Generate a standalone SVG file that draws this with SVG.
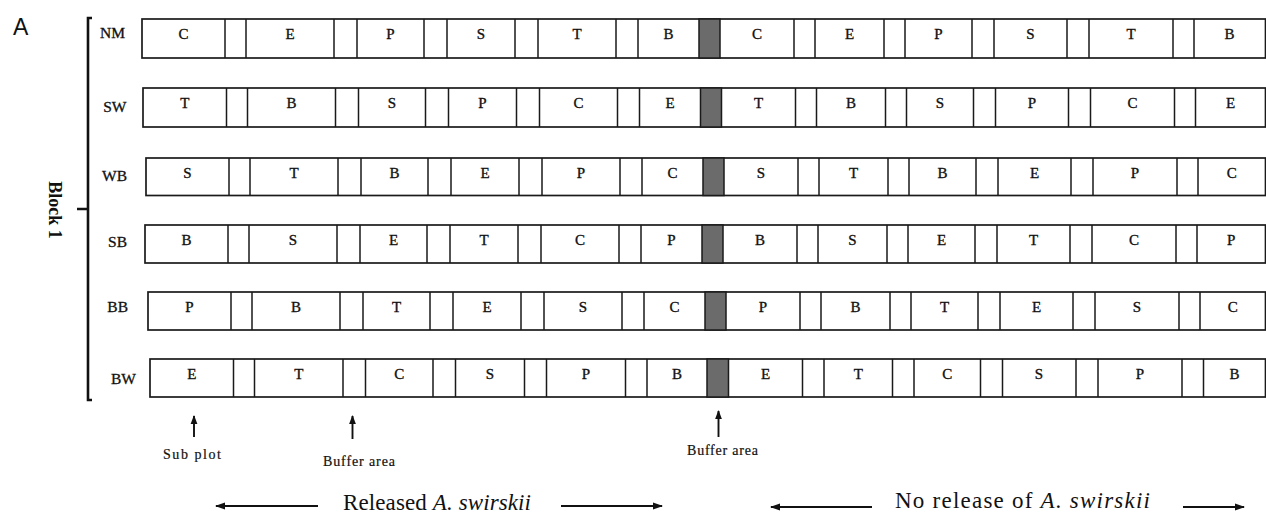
<svg xmlns="http://www.w3.org/2000/svg" width="1266" height="514" viewBox="0 0 1266 514">
<style>
.box{fill:#fff;stroke:#1a1a1a;stroke-width:1.7}
.div{fill:none;stroke:#1a1a1a;stroke-width:1.5}
.buf{fill:#6b6b6b;stroke:#1a1a1a;stroke-width:1.5}
.cl{font-family:"Liberation Serif",serif;font-size:15px;text-anchor:middle;fill:#111;stroke:#111;stroke-width:0.35}
.rl{font-family:"Liberation Serif",serif;font-size:15.5px;text-anchor:end;fill:#111;stroke:#111;stroke-width:0.3}
.sm{font-family:"Liberation Serif",serif;font-size:14px;fill:#111;stroke:#111;stroke-width:0.2}
.big{font-family:"Liberation Serif",serif;font-size:23px;fill:#111}
.ar{fill:none;stroke:#111;stroke-width:1.9}
</style>
<defs>
<marker id="hv" markerUnits="userSpaceOnUse" markerWidth="9" markerHeight="8" viewBox="0 0 9 8" refX="8" refY="4" orient="auto"><path d="M0,0.6 L9,4 L0,7.4 Z" fill="#111"/></marker>
<marker id="hh" markerUnits="userSpaceOnUse" markerWidth="10" markerHeight="8" viewBox="0 0 10 8" refX="9" refY="4" orient="auto"><path d="M0,0.5 L10,4 L0,7.5 Z" fill="#111"/></marker>
</defs>
<rect width="1266" height="514" fill="#fff"/>
<text x="13" y="35" font-family="Liberation Sans,Arial,sans-serif" font-size="23" fill="#111">A</text>
<g id="block">
<path d="M92,18 L88,18 L88,400 L92,400 M77,209 L88,209" fill="none" stroke="#111" stroke-width="2.6"/>
<text transform="translate(49,210) rotate(90)" font-family="Liberation Serif,serif" font-size="18" font-weight="bold" text-anchor="middle" fill="#111">Block 1</text>
</g>
<g id="row-NM">
<rect class="box" x="142" y="19" width="1123.5" height="39"/>
<path class="div" d="M225,19V58M246,19V58M334,19V58M357,19V58M424,19V58M447,19V58M515,19V58M538,19V58M616,19V58M638,19V58M794,19V58M815,19V58M884,19V58M905,19V58M972,19V58M994,19V58M1067,19V58M1089,19V58M1173,19V58M1194,19V58"/>
<rect class="buf" x="699" y="19" width="21" height="39"/>
<text class="rl" x="125" y="38">NM</text>
<g class="cl"><text x="183.5" y="38.5">C</text><text x="290" y="38.5">E</text><text x="390.5" y="38.5">P</text><text x="481" y="38.5">S</text><text x="577" y="38.5">T</text><text x="668.5" y="38.5">B</text><text x="757" y="38.5">C</text><text x="849.5" y="38.5">E</text><text x="938.5" y="38.5">P</text><text x="1030.5" y="38.5">S</text><text x="1131" y="38.5">T</text><text x="1229.5" y="38.5">B</text></g>
</g>
<g id="row-SW">
<rect class="box" x="143" y="88" width="1122.5" height="39"/>
<path class="div" d="M226.5,88V127M247.5,88V127M335.5,88V127M358.5,88V127M425.5,88V127M448.5,88V127M516.5,88V127M539.5,88V127M617.5,88V127M639.5,88V127M795.5,88V127M816.5,88V127M885.5,88V127M906.5,88V127M973.5,88V127M995.5,88V127M1068.5,88V127M1090.5,88V127M1174.5,88V127M1195.5,88V127"/>
<rect class="buf" x="700.5" y="88" width="21" height="39"/>
<text class="rl" x="126.5" y="112">SW</text>
<g class="cl"><text x="184.75" y="107.5">T</text><text x="291.5" y="107.5">B</text><text x="392" y="107.5">S</text><text x="482.5" y="107.5">P</text><text x="578.5" y="107.5">C</text><text x="670" y="107.5">E</text><text x="758.5" y="107.5">T</text><text x="851" y="107.5">B</text><text x="940" y="107.5">S</text><text x="1032" y="107.5">P</text><text x="1132.5" y="107.5">C</text><text x="1230.5" y="107.5">E</text></g>
</g>
<g id="row-WB">
<rect class="box" x="146" y="158" width="1119.5" height="37.5"/>
<path class="div" d="M229,158V195.5M250,158V195.5M338,158V195.5M361,158V195.5M428,158V195.5M451,158V195.5M519,158V195.5M542,158V195.5M620,158V195.5M642,158V195.5M798,158V195.5M819,158V195.5M888,158V195.5M909,158V195.5M976,158V195.5M998,158V195.5M1071,158V195.5M1093,158V195.5M1177,158V195.5M1198,158V195.5"/>
<rect class="buf" x="703" y="158" width="21" height="37.5"/>
<text class="rl" x="127" y="181">WB</text>
<g class="cl"><text x="187.5" y="177.5">S</text><text x="294" y="177.5">T</text><text x="394.5" y="177.5">B</text><text x="485" y="177.5">E</text><text x="581" y="177.5">P</text><text x="672.5" y="177.5">C</text><text x="761" y="177.5">S</text><text x="853.5" y="177.5">T</text><text x="942.5" y="177.5">B</text><text x="1034.5" y="177.5">E</text><text x="1135" y="177.5">P</text><text x="1231.75" y="177.5">C</text></g>
</g>
<g id="row-SB">
<rect class="box" x="145" y="225" width="1120.5" height="38"/>
<path class="div" d="M228,225V263M249,225V263M337,225V263M360,225V263M427,225V263M450,225V263M518,225V263M541,225V263M619,225V263M641,225V263M797,225V263M818,225V263M887,225V263M908,225V263M975,225V263M997,225V263M1070,225V263M1092,225V263M1176,225V263M1197,225V263"/>
<rect class="buf" x="702" y="225" width="21" height="38"/>
<text class="rl" x="127" y="247">SB</text>
<g class="cl"><text x="186.5" y="244.5">B</text><text x="293" y="244.5">S</text><text x="393.5" y="244.5">E</text><text x="484" y="244.5">T</text><text x="580" y="244.5">C</text><text x="671.5" y="244.5">P</text><text x="760" y="244.5">B</text><text x="852.5" y="244.5">S</text><text x="941.5" y="244.5">E</text><text x="1033.5" y="244.5">T</text><text x="1134" y="244.5">C</text><text x="1231.25" y="244.5">P</text></g>
</g>
<g id="row-BB">
<rect class="box" x="148" y="292" width="1117.5" height="38"/>
<path class="div" d="M231,292V330M252,292V330M340,292V330M363,292V330M430,292V330M453,292V330M521,292V330M544,292V330M622,292V330M644,292V330M800,292V330M821,292V330M890,292V330M911,292V330M978,292V330M1000,292V330M1073,292V330M1095,292V330M1179,292V330M1200,292V330"/>
<rect class="buf" x="705" y="292" width="21" height="38"/>
<text class="rl" x="128" y="312">BB</text>
<g class="cl"><text x="189.5" y="311.5">P</text><text x="296" y="311.5">B</text><text x="396.5" y="311.5">T</text><text x="487" y="311.5">E</text><text x="583" y="311.5">S</text><text x="674.5" y="311.5">C</text><text x="763" y="311.5">P</text><text x="855.5" y="311.5">B</text><text x="944.5" y="311.5">T</text><text x="1036.5" y="311.5">E</text><text x="1137" y="311.5">S</text><text x="1232.75" y="311.5">C</text></g>
</g>
<g id="row-BW">
<rect class="box" x="150" y="359" width="1115.5" height="38"/>
<path class="div" d="M233.5,359V397M254.5,359V397M343,359V397M365.5,359V397M433,359V397M455.5,359V397M524.5,359V397M546.5,359V397M625.5,359V397M647,359V397M802.5,359V397M824,359V397M892.5,359V397M914,359V397M980.5,359V397M1002.5,359V397M1076,359V397M1098,359V397M1182,359V397M1203.5,359V397"/>
<rect class="buf" x="707" y="359" width="21.5" height="38"/>
<text class="rl" x="136" y="384">BW</text>
<g class="cl"><text x="191.75" y="378.5">E</text><text x="298.75" y="378.5">T</text><text x="399.25" y="378.5">C</text><text x="490" y="378.5">S</text><text x="586" y="378.5">P</text><text x="677" y="378.5">B</text><text x="765.5" y="378.5">E</text><text x="858.25" y="378.5">T</text><text x="947.25" y="378.5">C</text><text x="1039" y="378.5">S</text><text x="1140" y="378.5">P</text><text x="1234.5" y="378.5">B</text></g>
</g>
<g id="connectors">
<line class="ar" x1="194" y1="437" x2="194" y2="416" marker-end="url(#hv)"/>
<line class="ar" x1="352.5" y1="439" x2="352.5" y2="416" marker-end="url(#hv)"/>
<line class="ar" x1="718.5" y1="437" x2="718.5" y2="411" marker-end="url(#hv)"/>
<line class="ar" x1="318" y1="506" x2="216" y2="506" marker-end="url(#hh)"/>
<line class="ar" x1="561" y1="506" x2="662" y2="506" marker-end="url(#hh)"/>
<line class="ar" x1="872" y1="507" x2="771" y2="507" marker-end="url(#hh)"/>
<line class="ar" x1="1183" y1="507" x2="1244" y2="507" marker-end="url(#hh)"/>
</g>
<g id="labels">
<text class="sm" x="163" y="459" textLength="58" lengthAdjust="spacing">Sub plot</text>
<text class="sm" x="323" y="466" textLength="72" lengthAdjust="spacing">Buffer  area</text>
<text class="sm" x="687" y="455" textLength="71" lengthAdjust="spacing">Buffer  area</text>
<text class="big" x="343" y="510" textLength="188" lengthAdjust="spacing">Released <tspan font-style="italic">A. swirskii</tspan></text>
<text class="big" x="895" y="508" textLength="255" lengthAdjust="spacing">No release of <tspan font-style="italic">A.  swirskii</tspan></text>
</g>
</svg>
